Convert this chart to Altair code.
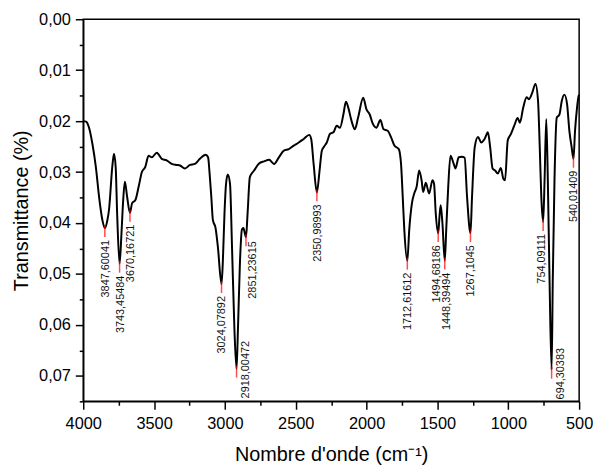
import altair as alt
import pandas as pd

# FTIR spectrum (wavenumber cm-1, transmittance)
wn = [4000, 3980, 3960, 3935, 3911, 3888, 3865, 3847.60041, 3830, 3818, 3795, 3783, 3771, 3760,
      3743.45484, 3730, 3718, 3706, 3690, 3670.16721, 3655, 3632, 3609, 3586, 3562, 3539, 3516,
      3481, 3446, 3411, 3376, 3341, 3317, 3282, 3247, 3212, 3177, 3136, 3119, 3108, 3096, 3085,
      3066, 3050, 3024.07892, 3015, 3003, 2992, 2980, 2964, 2950, 2933, 2918.00472, 2908, 2894,
      2880, 2870, 2851.23615, 2840, 2824, 2794, 2759, 2724, 2688, 2653, 2619, 2584, 2549, 2514,
      2479, 2444, 2405, 2391, 2374, 2350.98993, 2332, 2316, 2300, 2281, 2258, 2234, 2211, 2188,
      2164, 2146, 2129, 2106, 2083, 2060, 2024, 2001, 1978, 1955, 1931, 1903, 1880, 1851, 1827,
      1804, 1773, 1757, 1745, 1734, 1712.61612, 1699, 1680, 1664, 1647, 1629, 1612, 1601, 1582,
      1559, 1535, 1524, 1512, 1494.68186, 1485, 1477, 1465, 1448.39494, 1438, 1424, 1408, 1385,
      1373, 1350, 1327, 1308, 1291, 1267.1045, 1256, 1237, 1214, 1191, 1167, 1144, 1128, 1111,
      1093, 1074, 1053, 1035, 1023, 1004, 981, 958, 934, 918, 895, 871, 855, 832, 808, 790, 778,
      767, 754.09111, 744, 732, 721, 709, 694.30383, 686, 674, 658, 639, 623, 604, 585, 569, 553,
      540.01409, 529, 515, 504, 500]
tr = [0.0200, 0.0201, 0.0212, 0.0245, 0.0290, 0.0349, 0.0394, 0.0410, 0.0395, 0.0374, 0.0290,
      0.0264, 0.0290, 0.0387, 0.0480, 0.0420, 0.0355, 0.0319, 0.0349, 0.0380, 0.0361, 0.0355,
      0.0329, 0.0300, 0.0290, 0.0268, 0.0271, 0.0262, 0.0274, 0.0277, 0.0284, 0.0286, 0.0287,
      0.0293, 0.0286, 0.0284, 0.0274, 0.0266, 0.0271, 0.0303, 0.0349, 0.0394, 0.0410, 0.0446,
      0.0520, 0.0478, 0.0381, 0.0323, 0.0305, 0.0323, 0.0446, 0.0608, 0.0686, 0.0608, 0.0478,
      0.0413, 0.0410, 0.0428, 0.0381, 0.0310, 0.0297, 0.0283, 0.0279, 0.0276, 0.0284, 0.0271,
      0.0258, 0.0255, 0.0248, 0.0242, 0.0235, 0.0227, 0.0235, 0.0284, 0.0340, 0.0297, 0.0258,
      0.0250, 0.0242, 0.0225, 0.0222, 0.0209, 0.0213, 0.0187, 0.0162, 0.0174, 0.0200, 0.0216,
      0.0193, 0.0154, 0.0177, 0.0187, 0.0206, 0.0213, 0.0198, 0.0216, 0.0219, 0.0232, 0.0248,
      0.0255, 0.0284, 0.0349, 0.0413, 0.0474, 0.0413, 0.0361, 0.0342, 0.0329, 0.0297, 0.0316,
      0.0339, 0.0321, 0.0342, 0.0316, 0.0323, 0.0381, 0.0420, 0.0385, 0.0365, 0.0400, 0.0474,
      0.0413, 0.0329, 0.0268, 0.0284, 0.0293, 0.0271, 0.0270, 0.0272, 0.0349, 0.0420, 0.0349,
      0.0251, 0.0231, 0.0242, 0.0235, 0.0222, 0.0251, 0.0293, 0.0297, 0.0303, 0.0292, 0.0313,
      0.0316, 0.0238, 0.0225, 0.0209, 0.0194, 0.0203, 0.0174, 0.0153, 0.0157, 0.0145, 0.0127,
      0.0161, 0.0251, 0.0349, 0.0398, 0.0316, 0.0196, 0.0316, 0.0510, 0.0688, 0.0510, 0.0316,
      0.0193, 0.0187, 0.0161, 0.0148, 0.0167, 0.0219, 0.0251, 0.0274, 0.0219, 0.0174, 0.0151,
      0.0148]

peak_wn = [3847.60041, 3743.45484, 3670.16721, 3024.07892, 2918.00472, 2851.23615, 2350.98993,
           1712.61612, 1494.68186, 1448.39494, 1267.1045, 754.09111, 694.30383, 540.01409]
peak_tr = [0.0410, 0.0480, 0.0380, 0.0520, 0.0686, 0.0428, 0.0340,
           0.0474, 0.0420, 0.0474, 0.0420, 0.0398, 0.0688, 0.0274]
# label placement groups (which peaks get their label nudged)
side_peaks = [2918.00472, 694.30383]     # written beside the peak, reaching the axis
left_nudge = [1494.68186, 754.09111]     # a little to the left of the marker
right_nudge = [1448.39494]               # a little to the right
far_right = [2851.23615]                 # clearly to the right

x_major = list(range(4000, 499, -500))
x_minor = list(range(3750, 499, -500))
y_major = [round(i * 0.01, 2) for i in range(8)]
y_minor = [round(0.005 + i * 0.01, 3) for i in range(8)]

curve = pd.DataFrame({"wn": wn, "tr": tr})


def group(v):
    if v in side_peaks:
        return "side"
    if v in left_nudge:
        return "left"
    if v in right_nudge:
        return "right"
    if v in far_right:
        return "far"
    return "below"


peaks = pd.DataFrame({
    "wn": peak_wn,
    "tr": peak_tr,
    "label": [str(v).replace(".", ",") for v in peak_wn],
    "grp": [group(v) for v in peak_wn],
})

FONT = "Liberation Sans"

xs = alt.Scale(domain=[500, 4000], reverse=True, nice=False, zero=False)
ys = alt.Scale(domain=[0, 0.075], reverse=True, nice=False, zero=False)

x_axis_major = alt.Axis(
    orient="bottom", values=x_major, format="d", tickSize=8,
    labelFlush=False, labelOverlap=False, grid=False,
    labelPadding=6, titlePadding=13,
)
y_axis_major = alt.Axis(
    orient="left", values=y_major,
    labelExpr="replace(format(datum.value, '.2f'), '.', ',')",
    tickSize=8, labelFlush=False, labelOverlap=False, grid=False,
    labelPadding=5, titlePadding=7,
)
x_axis_minor = alt.Axis(orient="bottom", values=x_minor, tickSize=4, labels=False,
                        domain=False, grid=False, title=None)
y_axis_minor = alt.Axis(orient="left", values=y_minor, tickSize=4, labels=False,
                        domain=False, grid=False, title=None)

line = alt.Chart(curve).mark_line(
    color="black", strokeWidth=2, interpolate="monotone"
).encode(
    x=alt.X("wn:Q", scale=xs, axis=x_axis_major, title="Nombre d'onde (cm⁻¹)"),
    y=alt.Y("tr:Q", scale=ys, axis=y_axis_major, title="Transmittance (%)"),
)

markers = alt.Chart(peaks).mark_tick(
    color="#ff0000", orient="vertical", size=12, thickness=1.5, yOffset=3
).encode(
    x=alt.X("wn:Q", scale=xs, axis=x_axis_minor),
    y=alt.Y("tr:Q", scale=ys, axis=y_axis_minor),
)


def labels(grp, align, dx, dy):
    return alt.Chart(peaks).transform_filter(f"datum.grp == '{grp}'").mark_text(
        angle=270, align=align, baseline="middle", dx=dx, dy=dy,
        fontSize=11, font=FONT, color="#111111"
    ).encode(
        x=alt.X("wn:Q", scale=xs, axis=None),
        y=alt.Y("tr:Q", scale=ys, axis=None),
        text="label:N",
    )


chart = alt.layer(
    line, markers,
    labels("below", "right", -12, 1),
    labels("left", "right", -12, -1.5),
    labels("right", "right", -12, 2.5),
    labels("far", "right", -4, 7),
    labels("side", "left", -30, 10),
).resolve_axis(
    x="independent", y="independent"
).properties(
    width=501, height=386,
    padding={"left": 76, "top": 9, "right": 14, "bottom": 62},
    autosize=alt.AutoSizeParams(type="none"),
).configure_view(
    stroke="black", strokeWidth=1.5
).configure_axis(
    domainColor="black", domainWidth=1.5, tickColor="black", tickWidth=1.5,
    labelFont=FONT, labelFontSize=16.5, labelColor="black",
    titleFont=FONT, titleFontSize=20, titleFontWeight="normal", titleColor="black",
)

chart.save("out.html", embed_options={"renderer": "svg", "actions": False})
